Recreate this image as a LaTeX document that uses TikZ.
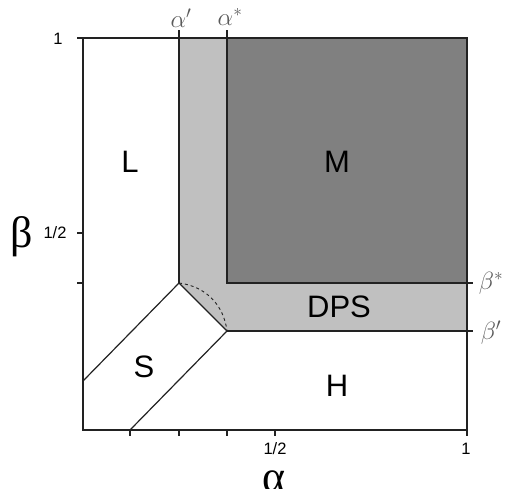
\documentclass[tikz,border=0pt]{standalone}
\usepackage{fontspec}
\setmainfont{Liberation Sans}
\newfontfamily\greekfont{Liberation Serif}
\definecolor{lightreg}{HTML}{C0C0C0}
\definecolor{darkreg}{HTML}{808080}
\definecolor{linecol}{HTML}{222222}
\definecolor{labgray}{HTML}{5A5A5A}
\begin{document}
\begin{tikzpicture}[x=1pt,y=-1pt,
  bound/.style={draw=linecol,line width=1.4pt},
  edge/.style={draw=linecol,line width=1.2pt},
  region/.style={font=\fontsize{31}{33}\selectfont},
  ticklab/.style={font=\fontsize{16.5}{18}\selectfont},
  axlab/.style={font=\greekfont\fontsize{44}{46}\selectfont},
  parlab/.style={text=labgray,font=\fontsize{24}{26}\selectfont}]
\useasboundingbox (0,0) rectangle (505,488);
% points
\coordinate (TL) at (83,38);
\coordinate (TR) at (467,38);
\coordinate (BR) at (467,430);
\coordinate (BL) at (83,430);
\coordinate (Ap) at (179,283);
\coordinate (As) at (227,331);
\coordinate (ApTop) at (179,30);
\coordinate (AsTop) at (227,30);
\coordinate (AsBot) at (227,283);
\coordinate (BsR) at (473,283);
\coordinate (BpR) at (473,331);
\coordinate (SL) at (83,381);
\coordinate (SB) at (130,430);
% regions
\fill[lightreg] (179,38) -- (467,38) -- (467,331) -- (As) -- (Ap) -- cycle;
\fill[darkreg] (227,38) rectangle (467,283);
% frame
\draw[bound] (77,38) -- (TR) -- (BR) -- (BL) -- (TL);
% boundary lines
\draw[edge] (ApTop) -- (Ap);
\draw[edge] (AsTop) -- (AsBot) -- (BsR);
\draw[edge] (As) -- (BpR);
\draw[edge] (Ap) -- (As);
\draw[edge] (Ap) -- (SL);
\draw[edge] (As) -- (SB);
\draw[edge,dashed,line width=0.9pt] (Ap) to[bend left=38] (As);
% ticks
\foreach \yy in {233,283} \draw[bound] (77,\yy) -- (83,\yy);
\foreach \xx in {130,179,227,275,467} \draw[bound] (\xx,430) -- (\xx,436);
% labels
\node[region] (L) at (130,162) {L};
\node[region] (M) at (337,162) {M};
\node[region] (DPS) at (339,307) {DPS};
\node[region] (H) at (337,386) {H};
\node[region] (S) at (144,367) {S};
\node[ticklab] (y1) at (58,39) {1};
\node[ticklab] (yh) at (55,233) {1/2};
\node[ticklab] (xh) at (275,449) {1/2};
\node[ticklab] (x1) at (466,449) {1};
\node[axlab] (beta) at (22,237) {β};
\node[axlab] (alpha) at (274,481) {α};
\node[parlab] (alp) at (181,18) {$\alpha'$};
\node[parlab] (als) at (230,17) {$\alpha^{*}$};
\node[parlab] (bes) at (491,283) {$\beta^{*}$};
\node[parlab] (bep) at (491,333) {$\beta'$};
\end{tikzpicture}
\end{document}
